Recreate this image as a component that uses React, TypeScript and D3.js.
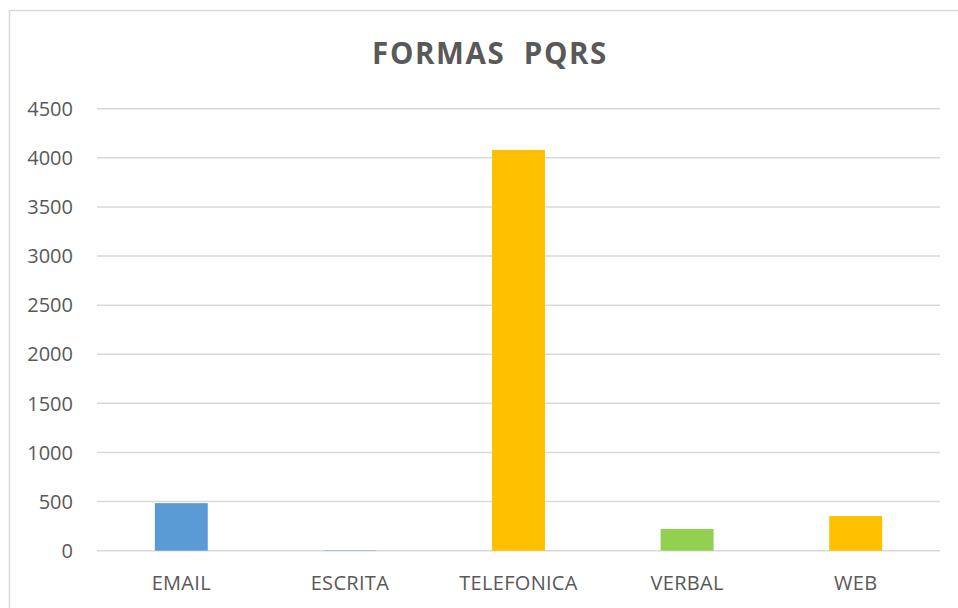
import * as d3 from "d3";

const categories = ["EMAIL", "ESCRITA", "TELEFONICA", "VERBAL", "WEB"];
const values = [484, 4, 4080, 221, 353];
const barColors = ["#5B9BD5", "#5B9BD5", "#FFC000", "#92D050", "#FFC000"];
const yTicks = [0, 500, 1000, 1500, 2000, 2500, 3000, 3500, 4000, 4500];
const title = "FORMAS  PQRS";

const W = 958;
const H = 608;
const font = "'Open Sans', sans-serif";
const textColor = "#595959";
const gridColor = "#D9D9D9";

export default function App() {
  // plot area
  const left = 97;
  const right = 940;
  const top = 108.7;
  const bottom = 550.7;

  const x = d3
    .scaleBand<string>()
    .domain(categories)
    .range([left, right])
    .paddingInner(0.686)
    .paddingOuter(0.343);

  const y = d3.scaleLinear().domain([0, 4500]).range([bottom, top]);

  return (
    <svg
      width={W}
      height={H}
      style={{ position: "absolute", left: 0, top: 0, background: "#fff" }}
    >
      {/* chart frame, only left and top edges are visible */}
      <line x1={9.5} x2={9.5} y1={10.5} y2={H} stroke={gridColor} strokeWidth={1.5} />
      <line x1={9.5} x2={W} y1={10.5} y2={10.5} stroke={gridColor} strokeWidth={1.5} />

      <text
        x={490}
        y={63.5}
        textAnchor="middle"
        fontFamily={font}
        fontWeight="bold"
        fontSize={29.5}
        letterSpacing={1.6}
        fill={textColor}
        style={{ whiteSpace: "pre" }}
      >
        {title}
      </text>

      {/* gridlines */}
      {yTicks.map((t) => (
        <line
          key={"g" + t}
          x1={left}
          x2={right}
          y1={y(t)}
          y2={y(t)}
          stroke={gridColor}
          strokeWidth={1.5}
        />
      ))}

      {/* y tick labels */}
      {yTicks.map((t) => (
        <text
          key={"t" + t}
          x={73}
          y={y(t)}
          dy="0.36em"
          textAnchor="end"
          fontFamily={font}
          fontSize={20}
          fill={textColor}
        >
          {t}
        </text>
      ))}

      {/* bars */}
      {categories.map((c, i) => (
        <rect
          key={c}
          x={x(c)}
          y={y(values[i])}
          width={x.bandwidth()}
          height={y(0) - y(values[i])}
          fill={barColors[i]}
        />
      ))}

      {/* category labels */}
      {categories.map((c) => (
        <text
          key={"c" + c}
          x={(x(c) ?? 0) + x.bandwidth() / 2}
          y={590}
          textAnchor="middle"
          fontFamily={font}
          fontSize={20}
          letterSpacing={0.3}
          fill={textColor}
        >
          {c}
        </text>
      ))}
    </svg>
  );
}
